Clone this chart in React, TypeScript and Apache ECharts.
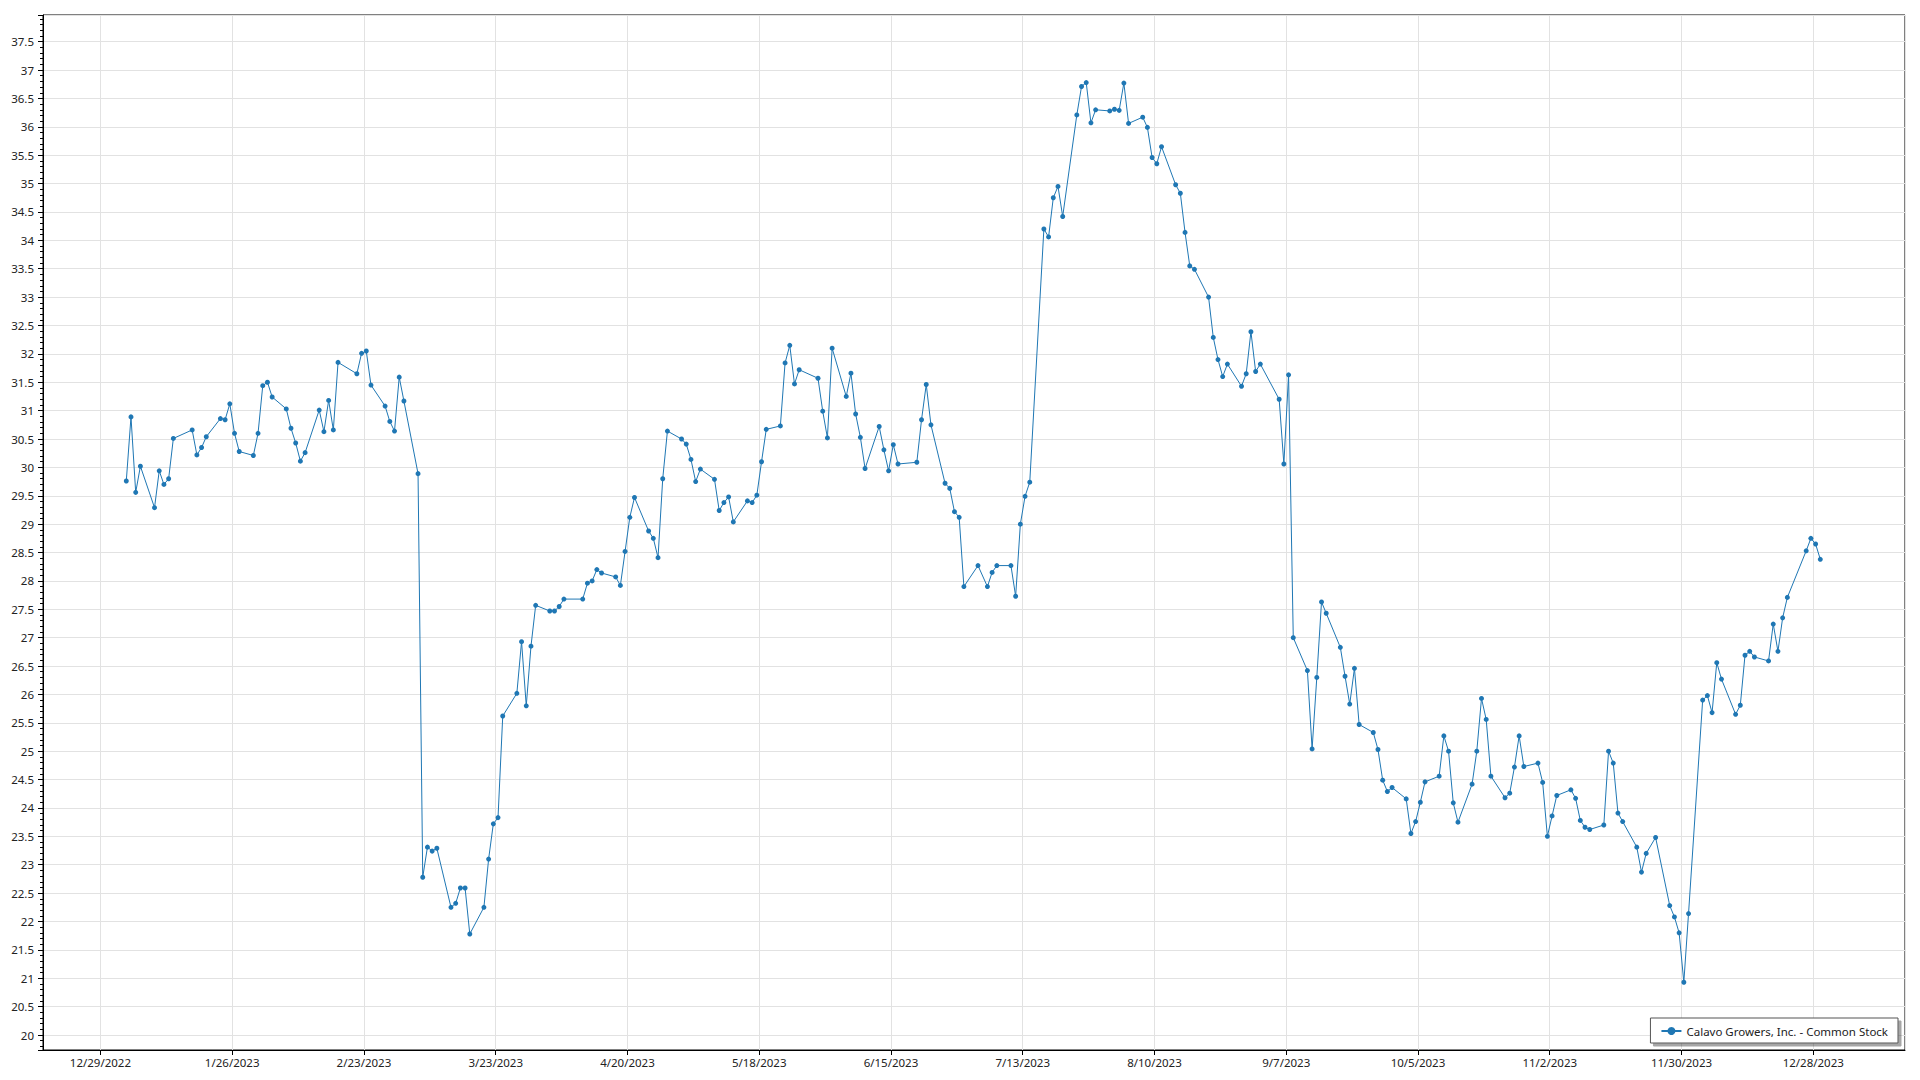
import { useEffect, useRef } from "react";
import * as echarts from "echarts";

const SERIES_NAME = "Calavo Growers, Inc. - Common Stock";
const YEAR = 2023;

// Trading dates (M/D, 2023)
const tradeDates: string[] = [
  "1/3","1/4","1/5","1/6","1/9","1/10","1/11","1/12","1/13","1/17","1/18","1/19","1/20","1/23","1/24","1/25","1/26","1/27","1/30","1/31",
  "2/1","2/2","2/3","2/6","2/7","2/8","2/9","2/10","2/13","2/14","2/15","2/16","2/17","2/21","2/22","2/23","2/24","2/27","2/28",
  "3/1","3/2","3/3","3/6","3/7","3/8","3/9","3/10","3/13","3/14","3/15","3/16","3/17","3/20","3/21","3/22","3/23","3/24","3/27","3/28","3/29","3/30","3/31",
  "4/3","4/4","4/5","4/6","4/10","4/11","4/12","4/13","4/14","4/17","4/18","4/19","4/20","4/21","4/24","4/25","4/26","4/27","4/28",
  "5/1","5/2","5/3","5/4","5/5","5/8","5/9","5/10","5/11","5/12","5/15","5/16","5/17","5/18","5/19","5/22","5/23","5/24","5/25","5/26","5/30","5/31",
  "6/1","6/2","6/5","6/6","6/7","6/8","6/9","6/12","6/13","6/14","6/15","6/16","6/20","6/21","6/22","6/23","6/26","6/27","6/28","6/29","6/30",
  "7/3","7/5","7/6","7/7","7/10","7/11","7/12","7/13","7/14","7/17","7/18","7/19","7/20","7/21","7/24","7/25","7/26","7/27","7/28","7/31",
  "8/1","8/2","8/3","8/4","8/7","8/8","8/9","8/10","8/11","8/14","8/15","8/16","8/17","8/18","8/21","8/22","8/23","8/24","8/25","8/28","8/29","8/30","8/31",
  "9/1","9/5","9/6","9/7","9/8","9/11","9/12","9/13","9/14","9/15","9/18","9/19","9/20","9/21","9/22","9/25","9/26","9/27","9/28","9/29",
  "10/2","10/3","10/4","10/5","10/6","10/9","10/10","10/11","10/12","10/13","10/16","10/17","10/18","10/19","10/20","10/23","10/24","10/25","10/26","10/27","10/30","10/31",
  "11/1","11/2","11/3","11/6","11/7","11/8","11/9","11/10","11/13","11/14","11/15","11/16","11/17","11/20","11/21","11/22","11/24","11/27","11/28","11/29","11/30",
  "12/1","12/4","12/5","12/6","12/7","12/8","12/11","12/12","12/13","12/14","12/15","12/18","12/19","12/20","12/21","12/22","12/26","12/27","12/28","12/29",
];

// Closing prices
const closePrices: number[] = [
  29.76,30.89,29.56,30.02,29.29,29.94,29.70,29.80,30.51,30.66,30.22,30.35,30.54,30.86,30.84,31.12,30.60,30.28,30.21,30.60,
  31.44,31.50,31.24,31.03,30.69,30.43,30.11,30.26,31.01,30.63,31.18,30.66,31.85,31.65,32.01,32.05,31.45,31.08,30.81,
  30.64,31.59,31.17,29.89,22.78,23.31,23.24,23.29,22.25,22.32,22.59,22.59,21.78,22.25,23.10,23.72,23.83,25.62,26.02,26.93,25.80,26.85,27.57,
  27.47,27.47,27.55,27.68,27.68,27.96,28.00,28.20,28.14,28.07,27.92,28.52,29.12,29.47,28.88,28.75,28.41,29.80,30.64,
  30.50,30.41,30.14,29.75,29.97,29.79,29.24,29.38,29.48,29.04,29.41,29.38,29.51,30.10,30.67,30.73,31.84,32.15,31.47,31.72,31.57,30.99,
  30.52,32.10,31.25,31.66,30.94,30.53,29.98,30.72,30.31,29.94,30.40,30.06,30.09,30.84,31.46,30.75,29.72,29.63,29.22,29.12,27.90,
  28.27,27.90,28.15,28.27,28.27,27.73,29.00,29.49,29.74,34.20,34.06,34.75,34.95,34.42,36.21,36.71,36.78,36.07,36.30,36.28,
  36.31,36.29,36.77,36.06,36.17,35.99,35.46,35.35,35.65,34.98,34.83,34.14,33.55,33.49,33.00,32.29,31.90,31.60,31.82,31.43,31.65,32.39,31.69,
  31.82,31.20,30.06,31.63,27.00,26.42,25.04,26.30,27.63,27.43,26.83,26.32,25.83,26.46,25.47,25.33,25.03,24.49,24.29,24.36,
  24.16,23.55,23.76,24.10,24.46,24.56,25.27,25.00,24.09,23.75,24.42,25.00,25.93,25.56,24.56,24.18,24.26,24.72,25.27,24.73,24.79,24.45,
  23.50,23.86,24.22,24.32,24.17,23.78,23.66,23.62,23.70,25.00,24.79,23.91,23.76,23.31,22.87,23.20,23.48,22.28,22.08,21.80,20.93,
  22.14,25.90,25.98,25.68,26.56,26.27,25.65,25.81,26.69,26.76,26.66,26.59,27.24,26.76,27.35,27.71,28.53,28.75,28.65,28.38,
];

// Axis settings (x in days from the first tick date, 12/29/2022)
const X_TICK_DAYS = 28;
const X_MIN_DAYS = -12.2;
const X_MAX_DAYS = 383.5;
const Y_MIN = 19.736;
const Y_MAX = 37.97;
const Y_STEP = 0.5;
// quotes are stamped at midday
const QUOTE_TIME_OF_DAY = 0.5;

const DAY_MS = 86400000;
const BASE_MS = Date.UTC(2022, 11, 29);

function dayOffset(md: string): number {
  const [m, d] = md.split("/").map(Number);
  return (Date.UTC(YEAR, m - 1, d) - BASE_MS) / DAY_MS + QUOTE_TIME_OF_DAY;
}

function fmtDay(v: number): string {
  const t = new Date(BASE_MS + Math.round(v) * DAY_MS);
  return `${t.getUTCMonth() + 1}/${t.getUTCDate()}/${t.getUTCFullYear()}`;
}

const FONT = "'Noto Sans', 'Open Sans', sans-serif";
const LINE_COLOR = "#1f77b4";

export default function App() {
  const ref = useRef<HTMLDivElement>(null);

  useEffect(() => {
    if (!ref.current) return;
    const chart = echarts.init(ref.current, undefined, { renderer: "svg" });
    const data = tradeDates.map((d, i) => [dayOffset(d), closePrices[i]]);

    chart.setOption({
      animation: false,
      backgroundColor: "#ffffff",
      textStyle: { fontFamily: FONT },
      grid: {
        left: 43,
        top: 15,
        right: 15,
        bottom: 30,
        show: true,
        borderColor: "#000000",
        borderWidth: 1,
        backgroundColor: "transparent",
        containLabel: false,
        outerBoundsMode: "none",
      },
      xAxis: {
        type: "value",
        min: X_MIN_DAYS,
        max: X_MAX_DAYS,
        minInterval: X_TICK_DAYS,
        maxInterval: X_TICK_DAYS,
        axisLine: { show: true, onZero: false, lineStyle: { color: "#000000", width: 1 } },
        axisTick: { show: true, length: 5, lineStyle: { color: "#000000" } },
        axisLabel: {
          formatter: (v: number) => fmtDay(v),
          showMinLabel: false,
          showMaxLabel: false,
          margin: 6,
          color: "#222222",
          fontFamily: FONT,
          fontSize: 11.5,
        },
        splitLine: { show: true, lineStyle: { color: "#e2e2e2", width: 1 } },
      },
      yAxis: {
        type: "value",
        min: Y_MIN,
        max: Y_MAX,
        minInterval: Y_STEP,
        maxInterval: Y_STEP,
        axisLine: { show: true, onZero: false, lineStyle: { color: "#000000", width: 1 } },
        axisTick: { show: true, length: 5, lineStyle: { color: "#000000" } },
        minorTick: { show: true, splitNumber: 5, length: 3, lineStyle: { color: "#000000" } },
        axisLabel: {
          showMinLabel: false,
          showMaxLabel: false,
          margin: 9,
          color: "#222222",
          fontFamily: FONT,
          fontSize: 11.5,
          formatter: (v: number) => String(Math.round(v * 10) / 10),
        },
        splitLine: { show: true, lineStyle: { color: "#e2e2e2", width: 1 } },
      },
      legend: {
        show: true,
        right: 22,
        bottom: 37,
        orient: "horizontal",
        backgroundColor: "#ffffff",
        borderColor: "#555555",
        borderWidth: 1,
        borderRadius: 0,
        padding: [7, 10, 6, 10],
        shadowColor: "rgba(0,0,0,0.35)",
        shadowOffsetX: 3,
        shadowOffsetY: 3,
        shadowBlur: 0,
        itemWidth: 20,
        itemHeight: 10,
        itemGap: 5,
        textStyle: { fontSize: 11.5, color: "#222222", fontFamily: FONT },
        data: [SERIES_NAME],
      },
      series: [
        {
          name: SERIES_NAME,
          type: "line",
          data,
          symbol: "circle",
          symbolSize: 5,
          showSymbol: true,
          showAllSymbol: true,
          lineStyle: { color: LINE_COLOR, width: 1 },
          itemStyle: { color: LINE_COLOR },
          emphasis: { disabled: true },
        },
      ],
    });

    return () => chart.dispose();
  }, []);

  return (
    <div
      ref={ref}
      style={{ position: "fixed", left: 0, top: 0, width: 1920, height: 1080, background: "#fff" }}
    />
  );
}
